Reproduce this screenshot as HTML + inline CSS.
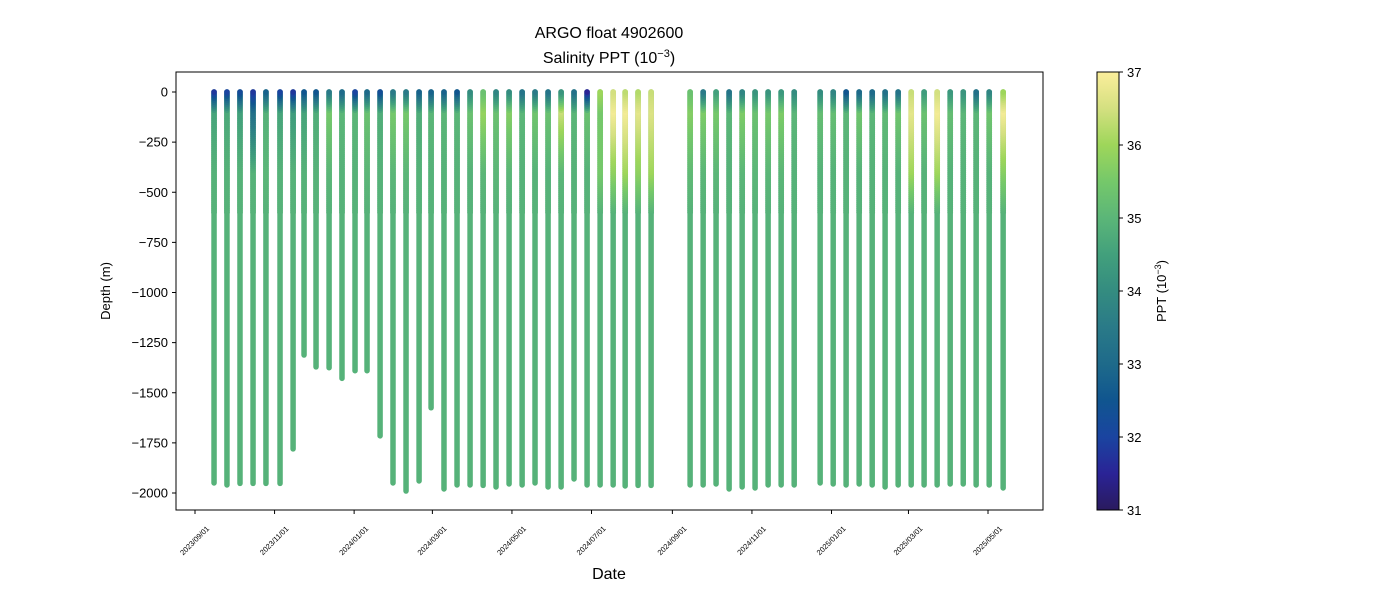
<!DOCTYPE html>
<html><head><meta charset="utf-8"><style>
body{margin:0;background:#fff;}
svg{display:block;font-family:"Liberation Sans","DejaVu Sans",sans-serif;}
</style></head><body>
<svg id="chart" width="1400" height="600" viewBox="0 0 1400 600">
<defs>
<linearGradient id="cbgrad" x1="0" y1="1" x2="0" y2="0"></linearGradient>
</defs>
<text x="609" y="38" text-anchor="middle" font-size="16">ARGO float 4902600</text>
<text x="609" y="63" text-anchor="middle" font-size="16">Salinity PPT (10<tspan baseline-shift="super" font-size="11">−3</tspan>)</text>
<g id="plot"></g>
<rect x="176" y="72" width="867" height="438" fill="none" stroke="#000" stroke-width="1"/>
<g id="yaxis"></g>
<g id="xaxis"></g>
<text transform="translate(110,291) rotate(-90)" text-anchor="middle" font-size="13">Depth (m)</text>
<text x="609" y="579" text-anchor="middle" font-size="16">Date</text>
<g id="cbar"></g>
<text transform="translate(1166,291) rotate(-90)" text-anchor="middle" font-size="13">PPT (10<tspan baseline-shift="super" font-size="9">−3</tspan>)</text>
</svg>
<script>
// days since 2023-09-01 for each profile
const profileDay=[14.6,24.5,34.5,44.5,54.4,65.2,75.2,83.6,92.8,102.8,112.7,122.7,131.9,141.9,151.8,161.8,171.8,181,190.9,200.9,210.9,220.9,230.8,240.8,250.8,260.7,270.7,280.7,290.6,300.6,310.6,320.6,329.8,339.7,349.7,379.6,389.6,399.5,409.5,419.5,429.4,439.4,449.4,459.4,479.3,489.3,499.2,509.2,519.2,529.1,539.1,549.1,559,569,579,589,598.9,608.9,619.6];
const maxDepth=[1950,1960,1952,1952,1952,1952,1780,1312,1371,1375,1428,1390,1390,1715,1950,1990,1940,1575,1980,1960,1960,1962,1970,1955,1960,1950,1970,1970,1930,1960,1960,1960,1965,1962,1962,1960,1960,1955,1980,1970,1975,1960,1960,1960,1950,1955,1960,1955,1960,1970,1960,1960,1960,1960,1955,1955,1960,1960,1975];
const surfSal=[31.8,32,32.2,31.8,32.8,32,31.8,32.5,32.5,33.5,33,32,33,32.3,33.5,33.5,32.8,32.8,32.8,32.5,34,35.3,33.8,34,33.3,33.5,33.3,34.2,33.2,31.5,36,36.5,36.3,36.2,36.4,35.3,33.5,34.5,33.3,33.8,34.2,34.2,34.3,34,34,33.8,32.5,33,33,33.2,33.3,36.4,34.4,36.5,34.3,34.2,33.2,33.8,36];
const subSal=[34.6,34.7,34.5,33.2,34.9,34.6,34.4,34.6,34.8,35.5,35,35,35.3,34.8,35.5,35.5,34.8,35,35,35,35.3,35.9,35.3,35.7,35,35.4,35.3,36.4,35,35.3,35.5,36.9,36.9,36.7,36.6,35.7,35.6,35.5,35,35.6,35.3,35.5,35.6,35,35.2,35.2,35,35.4,35,35.1,35.4,36.7,35.3,36.9,35.2,35,35,35.4,36.9];
const midSal=[34.9,34.9,34.9,34.9,35,34.9,34.9,34.9,34.9,35,34.9,34.9,35,34.9,35,35,34.9,34.9,34.9,34.9,34.9,35,35,35,34.9,34.9,34.9,35,34.9,34.9,35.5,35.8,36,35.8,36,35.1,35,35,34.9,35,35,35,35,34.9,34.9,34.9,34.9,34.9,34.9,34.9,34.9,36,34.9,36,34.9,34.9,34.9,34.9,35.7];
const deepSal=34.9;
const xTickDays=[0,61,122,182,243,304,366,427,488,547,608];
const xTickLabels=["2023/09/01","2023/11/01","2024/01/01","2024/03/01","2024/05/01","2024/07/01","2024/09/01","2024/11/01","2025/01/01","2025/03/01","2025/05/01"];
const yTicks=[0,-250,-500,-750,-1000,-1250,-1500,-1750,-2000];
const cbTicks=[31,32,33,34,35,36,37];

const NS="http://www.w3.org/2000/svg";
const X=d=>195+d*1.3043;
const Y=v=>92-v*0.2005;
const cmap=[[31,[42,26,94]],[31.5,[42,35,150]],[32,[26,68,160]],[32.5,[16,85,143]],[33,[30,106,138]],[33.5,[42,122,136]],[34,[52,140,128]],[34.5,[66,160,124]],[35,[91,182,120]],[35.5,[117,200,106]],[36,[158,214,90]],[36.5,[212,224,128]],[37,[251,238,155]]];
function color(s){s=Math.max(31,Math.min(37,s));for(let i=0;i<cmap.length-1;i++){const[a,ca]=cmap[i],[b,cb]=cmap[i+1];if(s<=b){const t=(s-a)/(b-a);return`rgb(${ca.map((c,k)=>Math.round(c+(cb[k]-c)*t)).join(',')})`;}}return'rgb(251,238,155)';}
function mk(tag,attrs,parent){const e=document.createElementNS(NS,tag);for(const k in attrs)e.setAttribute(k,attrs[k]);parent.appendChild(e);return e;}

const plot=document.getElementById('plot');
profileDay.forEach((d,i)=>{
  const g=mk('g',{},plot);
  
  
  const x=X(d);
  function sal(z){
    if(z<=100)return surfSal[i]+(subSal[i]-surfSal[i])*(z/100);
    if(z<=400)return subSal[i]+(midSal[i]-subSal[i])*((z-100)/300);
    if(z<=600)return midSal[i]+(deepSal-midSal[i])*((z-400)/200);
    return deepSal;
  }
  const base=mk('line',{x1:x,x2:x,y1:Y(0),y2:Y(-maxDepth[i]),stroke:color(deepSal),'stroke-width':5.5,'stroke-linecap':'round'},g);
  
  
  for(let z=600;z>=0;z-=10){
    mk('circle',{cx:x,cy:Y(-z),r:2.9,fill:color(sal(z))},g);
  }
});

const ya=document.getElementById('yaxis');
yTicks.forEach(v=>{
  const y=Y(v);
  mk('line',{x1:172,x2:176,y1:y,y2:y,stroke:'#000'},ya);
  const t=mk('text',{x:168,y:y+4.5,'text-anchor':'end','font-size':13},ya);
  t.textContent=v<0?'−'+(-v):String(v);
  
  
});
const xa=document.getElementById('xaxis');
xTickDays.forEach((d,i)=>{
  const x=X(d);
  mk('line',{x1:x,x2:x,y1:510,y2:514,stroke:'#000'},xa);
  const t=mk('text',{transform:`translate(${x},${541}) rotate(-45)`,'text-anchor':'middle','dominant-baseline':'middle','font-size':7.5},xa);
  t.textContent=xTickLabels[i];
  
  
});
const grad=document.getElementById('cbgrad');
for(let s=31;s<=37.001;s+=0.25){mk('stop',{offset:((s-31)/6*100)+'%','stop-color':color(s)},grad);}
const cb=document.getElementById('cbar');
mk('rect',{x:1097,y:72,width:22,height:438,fill:'url(#cbgrad)',stroke:'#000','stroke-width':1},cb);
cbTicks.forEach(v=>{
  const y=510-(v-31)/6*438;
  mk('line',{x1:1119,x2:1123,y1:y,y2:y,stroke:'#000'},cb);
  const t=mk('text',{x:1127,y:y+5,'font-size':13},cb);
  t.textContent=v;
  
  
});
</script>
</body></html>
